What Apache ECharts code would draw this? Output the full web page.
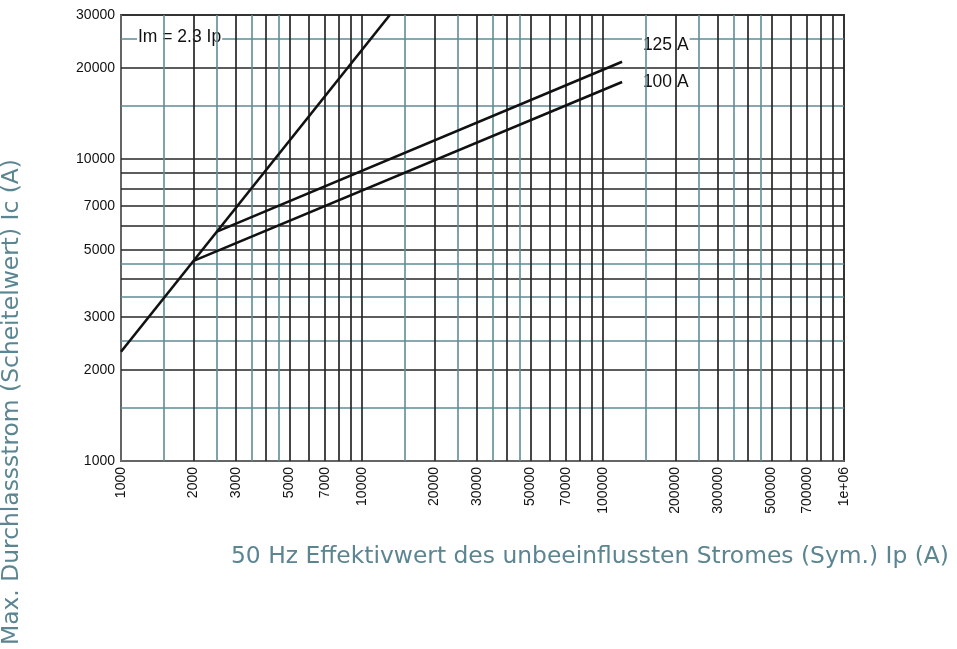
<!DOCTYPE html>
<html>
<head>
<meta charset="utf-8">
<script src="https://cdn.jsdelivr.net/npm/echarts@6/dist/echarts.min.js"></script>
<style>
  html, body { margin: 0; padding: 0; background: #fff; }
  #chart { width: 957px; height: 649px; }
</style>
</head>
<body>
<div id="chart"></div>
<script>
// curves (log-log, straight segments)
const imX = [1000, 13043];
const imY = [2300, 30000];
const a125X = [2500, 120000];
const a125Y = [5750, 21000];
const a100X = [2000, 120000];
const a100Y = [4600, 18000];

// tick labels
const xLabels = [1000, 2000, 3000, 5000, 7000, 10000, 20000, 30000, 50000, 70000,
  100000, 200000, 300000, 500000, 700000, 1000000];
const yLabels = [1000, 2000, 3000, 5000, 7000, 10000, 20000, 30000];

// grid lines
const xGridDark = [2000, 3000, 4000, 5000, 6000, 7000, 8000, 9000, 10000,
  20000, 30000, 40000, 50000, 60000, 70000, 80000, 90000, 100000,
  200000, 300000, 400000, 500000, 600000, 700000, 800000, 900000];
const xGridTeal = [1500, 2500, 3500, 4500, 15000, 25000, 35000, 45000,
  150000, 250000, 350000, 450000];
const yGridDark = [2000, 3000, 4000, 5000, 6000, 7000, 8000, 9000, 10000, 20000];
const yGridTeal = [1500, 2500, 3500, 4500, 15000, 25000];

// curve labels: text and anchor (left edge, vertical middle)
const labelTexts = ['Im = 2.3 Ip', '125 A', '100 A'];
const labelX = [1165, 145000, 145000];
const labelY = [25300, 23850, 17920];

const myChart = echarts.init(document.getElementById('chart'));

const darkLine = { color: '#262626', width: 1.7, type: 'solid' };
const tealLine = { color: '#5e8d95', width: 1.6, type: 'solid' };
const titleFont = '23.4px "DejaVu Sans", sans-serif';

const gridSeries = (data, style, z) => ({
  type: 'line',
  data: [],
  silent: true,
  z: z,
  markLine: {
    z: z,
    silent: true,
    symbol: 'none',
    animation: false,
    label: { show: false },
    lineStyle: style,
    data: data
  }
});

const curve = (xs, ys) => ({
  type: 'line',
  data: xs.map((x, i) => [x, ys[i]]),
  showSymbol: false,
  silent: true,
  z: 10,
  lineStyle: { color: '#111', width: 2.6 }
});

const option = {
  animation: false,
  grid: {
    left: 121, right: 113, top: 15, bottom: 188,
    show: true, borderColor: '#333', borderWidth: 2
  },
  xAxis: {
    type: 'log',
    logBase: 10,
    min: 1000,
    max: 1000000,
    axisLine: { show: true, lineStyle: { color: '#777', width: 1.5 } },
    axisTick: { show: false },
    splitLine: { show: false },
    axisLabel: {
      customValues: xLabels,
      rotate: 90,
      margin: 6,
      color: '#111',
      fontFamily: 'Liberation Sans, Arial',
      fontSize: 14,
      formatter: v => (v >= 1000000 ? '1e+06' : String(Math.round(v)))
    }
  },
  yAxis: {
    type: 'log',
    logBase: 10,
    min: 1000,
    max: 30000,
    axisLine: { show: true, lineStyle: { color: '#777', width: 1.5 } },
    axisTick: { show: false },
    splitLine: { show: false },
    axisLabel: {
      customValues: yLabels,
      margin: 6,
      color: '#111',
      fontFamily: 'Liberation Sans, Arial',
      fontSize: 14,
      formatter: v => String(Math.round(v))
    }
  },
  series: [
    gridSeries(yGridTeal.map(v => ({ yAxis: v })), tealLine, 1),
    gridSeries(yGridDark.map(v => ({ yAxis: v })), darkLine, 2),
    gridSeries(xGridTeal.map(v => ({ xAxis: v })), tealLine, 4),
    gridSeries(xGridDark.map(v => ({ xAxis: v })), darkLine, 5),
    curve(imX, imY),
    curve(a125X, a125Y),
    curve(a100X, a100Y)
  ]
};

myChart.setOption(option);

// curve labels with white box, placed through the axes' scales
const labelGraphics = labelTexts.map((t, i) => {
  const p = myChart.convertToPixel({ gridIndex: 0 }, [labelX[i], labelY[i]]);
  return {
    type: 'text',
    z: 3,
    x: p[0],
    y: p[1],
    silent: true,
    style: {
      text: t,
      fill: '#111',
      font: '17.5px "Liberation Sans", Arial, sans-serif',
      align: 'left',
      verticalAlign: 'middle',
      backgroundColor: '#fff',
      padding: [1, 1]
    }
  };
});

myChart.setOption({
  graphic: [
    {
      type: 'text',
      right: 8,
      top: 545,
      style: {
        text: '50 Hz Effektivwert des unbeeinflussten Stromes (Sym.) Ip (A)',
        fill: '#5a8591',
        font: titleFont
      }
    },
    {
      type: 'text',
      x: 0,
      y: 645,
      rotation: Math.PI / 2,
      style: {
        text: 'Max. Durchlassstrom (Scheitelwert) Ic (A)',
        fill: '#5a8591',
        font: titleFont
      }
    }
  ].concat(labelGraphics)
});
</script>
</body>
</html>
